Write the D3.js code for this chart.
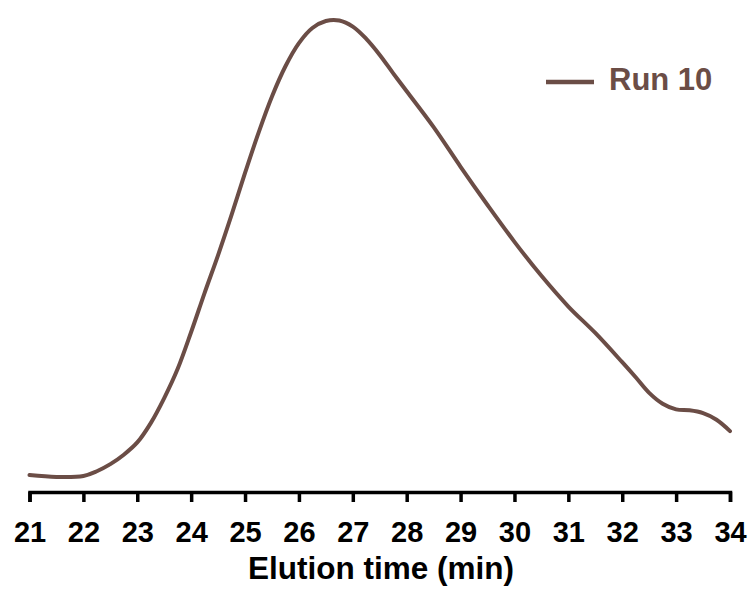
<!DOCTYPE html>
<html>
<head>
<meta charset="utf-8">
<script src="https://cdn.jsdelivr.net/npm/d3@7"></script>
<style>
  html, body { margin: 0; padding: 0; background: #fff; }
  svg { display: block; }
  text { font-family: "Liberation Sans", Arial, sans-serif; font-weight: bold; }
</style>
</head>
<body>
<svg id="chart" width="756" height="589"></svg>
<script>
// Elution profile (relative signal, % of peak) sampled against elution time in minutes
const times = [21, 21.5, 22, 22.25, 22.5, 22.75, 23, 23.25, 23.5, 23.75, 24, 24.25, 24.5, 24.75,
  25, 25.25, 25.5, 25.75, 26, 26.25, 26.5, 26.75, 27, 27.25, 27.5, 27.75,
  28, 28.5, 29, 29.5, 30, 30.5, 31, 31.5, 32, 32.25, 32.5, 32.75,
  33, 33.25, 33.5, 33.75, 34];
const signal = [3.6, 3.2, 3.4, 4.4, 5.9, 7.9, 10.5, 14.6, 19.9, 26.1, 33.9, 42.2, 50.2, 58.7,
  67.6, 76.1, 83.8, 90.2, 95.1, 98.3, 99.8, 99.9, 98.6, 96.0, 92.6, 88.7,
  84.9, 77.3, 68.9, 60.8, 53.0, 45.8, 39.3, 33.7, 27.5, 24.3, 21.0, 18.7,
  17.5, 17.3, 16.7, 15.3, 12.9];
const xTicks = [21, 22, 23, 24, 25, 26, 27, 28, 29, 30, 31, 32, 33, 34];
const seriesName = "Run 10";
const xTitle = "Elution time (min)";

const lineColor = "#6b4d46";
const svg = d3.select("#chart");

const x = d3.scaleLinear().domain([21, 34]).range([29.5, 730]);
const y = d3.scaleLinear().domain([0, 100]).range([492, 20]);

// x axis with downward ticks
const axis = svg.append("g")
  .attr("transform", "translate(0,492)")
  .call(d3.axisBottom(x).tickValues(xTicks).tickSize(10).tickSizeOuter(10).tickFormat(d3.format("d")));
axis.select(".domain").attr("stroke", "#000").attr("stroke-width", 3.5);
axis.selectAll(".tick line").attr("stroke", "#000").attr("stroke-width", 3.5);
axis.selectAll(".tick text")
  .attr("y", 50).attr("dy", 0)
  .attr("fill", "#000")
  .style("font-size", "29px");

svg.append("text")
  .attr("x", 381).attr("y", 579)
  .attr("text-anchor", "middle")
  .style("font-size", "31.5px")
  .attr("fill", "#000")
  .text(xTitle);

// chromatogram trace
const pts = times.map((t, i) => [t, signal[i]]);
svg.append("path")
  .datum(pts)
  .attr("fill", "none")
  .attr("stroke", lineColor)
  .attr("stroke-width", 4)
  .attr("stroke-linejoin", "round")
  .attr("stroke-linecap", "round")
  .attr("d", d3.line().x(d => x(d[0])).y(d => y(d[1])).curve(d3.curveCatmullRom.alpha(0.5)));

// legend
const lg = svg.append("g");
lg.append("line")
  .attr("x1", 546).attr("x2", 594).attr("y1", 82).attr("y2", 82)
  .attr("stroke", lineColor).attr("stroke-width", 4.5);
lg.append("text")
  .attr("x", 609).attr("y", 90)
  .style("font-size", "31px")
  .attr("fill", lineColor)
  .text(seriesName);
</script>
</body>
</html>
